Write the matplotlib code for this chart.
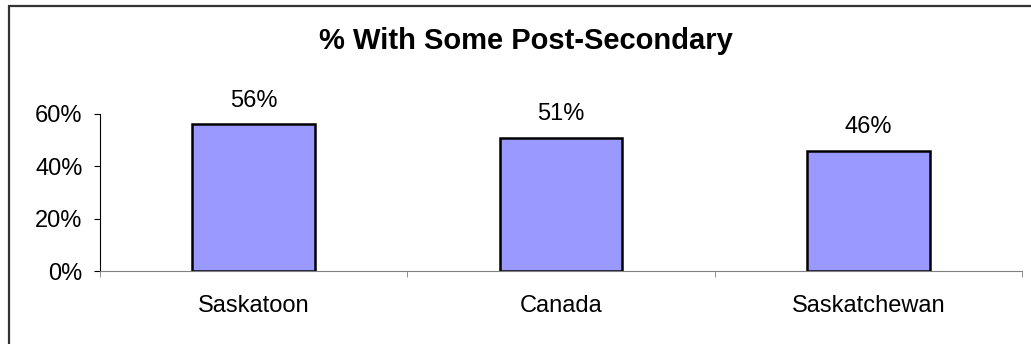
import numpy as np
import matplotlib.pyplot as plt
from matplotlib.patches import Rectangle
from matplotlib.ticker import PercentFormatter

categories = ['Saskatoon', 'Canada', 'Saskatchewan']
values = [0.56, 0.51, 0.46]
labels = ['56%', '51%', '46%']
title = '% With Some Post-Secondary'

plt.rcParams['font.family'] = ['Liberation Sans', 'DejaVu Sans']

W, H = 1031, 344


def main():
    fig = plt.figure(figsize=(W / 100, H / 100), dpi=100)
    # outer chart border (runs off the right and bottom edge)
    fig.patches.append(Rectangle((8.5 / W, -0.1), 1.2, 1.1 - 6.5 / H,
                                 transform=fig.transFigure, fill=False,
                                 edgecolor='#333333', linewidth=1.6))
    ax = fig.add_axes([100 / W, 73 / H, 922 / W, 157 / H])

    x = np.arange(len(categories))
    ax.bar(x, values, width=0.4, color='#9999ff', edgecolor='black', linewidth=1.8)
    for xi, v, lab in zip(x, values, labels):
        ax.annotate(lab, (xi, v), xytext=(0, 9), textcoords='offset points',
                    ha='center', va='bottom', fontsize=17)

    ax.set_xlim(-0.5, len(categories) - 0.5)
    ax.set_ylim(0, 0.6)
    ax.set_yticks([0, 0.2, 0.4, 0.6])
    ax.yaxis.set_major_formatter(PercentFormatter(1.0, decimals=0))
    ax.set_xticks(x)
    ax.set_xticklabels(categories)
    ax.set_xticks(np.arange(len(categories) + 1) - 0.5, minor=True)
    ax.tick_params(axis='x', which='major', length=0, pad=17, labelsize=17)
    ax.tick_params(axis='x', which='minor', length=4.5, color='#808080', direction='out')
    ax.tick_params(axis='y', length=4.5, labelsize=17, pad=8)

    ax.spines['top'].set_visible(False)
    ax.spines['right'].set_visible(False)
    ax.spines['bottom'].set_color('#808080')
    ax.spines['left'].set_color('black')

    fig.text(526 / W, 1 - 41 / H, title, ha='center', va='center',
             fontsize=21, fontweight='bold')

    plt.savefig('out.png', dpi=100)


if __name__ == '__main__':
    main()
